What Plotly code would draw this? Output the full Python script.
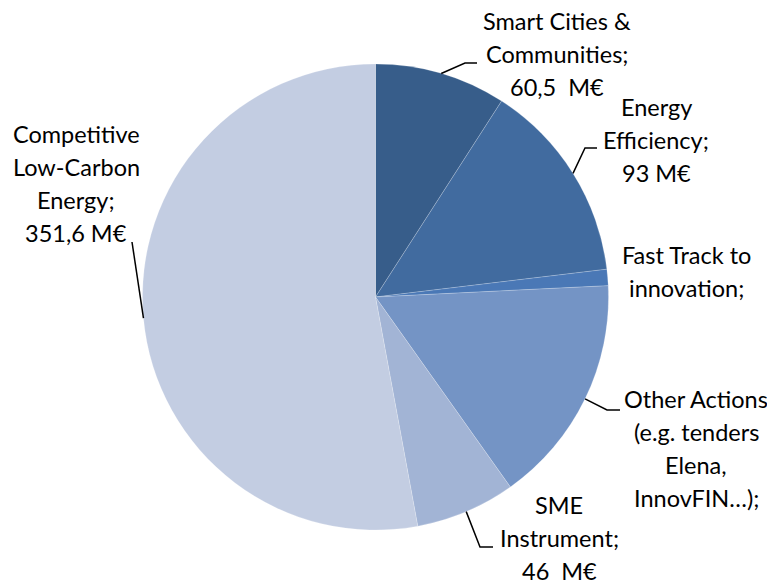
import math
import plotly.graph_objects as go

W, H = 775, 583

categories = ["Smart Cities & Communities", "Energy Efficiency", "Fast Track to innovation",
              "Other Actions (e.g. tenders Elena, InnovFIN…)", "SME Instrument",
              "Competitive Low-Carbon Energy"]
values = [60.5, 93, 7.5, 106, 46, 351.6]
colors = ["#375D8A", "#416B9F", "#4A78B6", "#7494C5", "#A2B4D5", "#C3CDE2"]
label_lines = [
    ["Smart Cities &", "Communities;", "60,5\u00a0 M€"],
    ["Energy", "Efficiency;", "93 M€"],
    ["Fast Track to", "innovation;"],
    ["Other Actions", "(e.g. tenders", "Elena,", "InnovFIN…);"],
    ["SME", "Instrument;", "46\u00a0 M€"],
    ["Competitive", "Low-Carbon", "Energy;", "351,6 M€"],
]

# layout (pixels in the screenshot); page body has an 8px margin
OFF = 8
cx, cy, R = 375.5, 297, 233
label_pos = [(557, 29), (656, 115), (686, 263), (696, 407), (559, 513), (76, 142)]  # center x, first baseline
line_h = 33
elbow = [(465, 63, 477), (585, 148, 597), None, (607, 410, 620), (480, 547, 493), (132, 242, None)]

def px(x):
    return (x - OFF) / W

def py(y):
    return 1 - (y - OFF) / H

fig = go.Figure(go.Pie(
    labels=categories, values=values, sort=False, direction="clockwise", rotation=0,
    marker=dict(colors=colors, line=dict(color="rgba(255,255,255,0.4)", width=0.5)),
    textinfo="none", hoverinfo="label+value", showlegend=False,
    domain=dict(x=[px(cx - R), px(cx + R)], y=[py(cy + R), py(cy - R)]),
))

annotations = []
for lines, (lx, lb) in zip(label_lines, label_pos):
    for i, t in enumerate(lines):
        b = lb + i * line_h
        annotations.append(dict(x=px(lx), y=py(b - 8), xref="paper", yref="paper",
                                text=t, showarrow=False, xanchor="center", yanchor="middle",
                                font=dict(family="Lato", size=23.5, color="#000000")))

shapes = []
total = sum(values)
cum = 0
for v, e in zip(values, elbow):
    mid = (cum + v / 2) / total * 2 * math.pi
    cum += v
    if e is None:
        continue
    sx, sy = cx + R * math.sin(mid), cy - R * math.cos(mid)
    ex, ey, hx = e
    path = f"M {px(sx)} {py(sy)} L {px(ex)} {py(ey)}"
    if hx is not None:
        path += f" L {px(hx)} {py(ey)}"
    shapes.append(dict(type="path", xref="paper", yref="paper", path=path,
                       line=dict(color="#000000", width=1.5)))

fig.update_layout(width=W, height=H, margin=dict(l=0, r=0, t=0, b=0),
                  paper_bgcolor="white", plot_bgcolor="white",
                  annotations=annotations, shapes=shapes)
fig.write_html("out.html")
